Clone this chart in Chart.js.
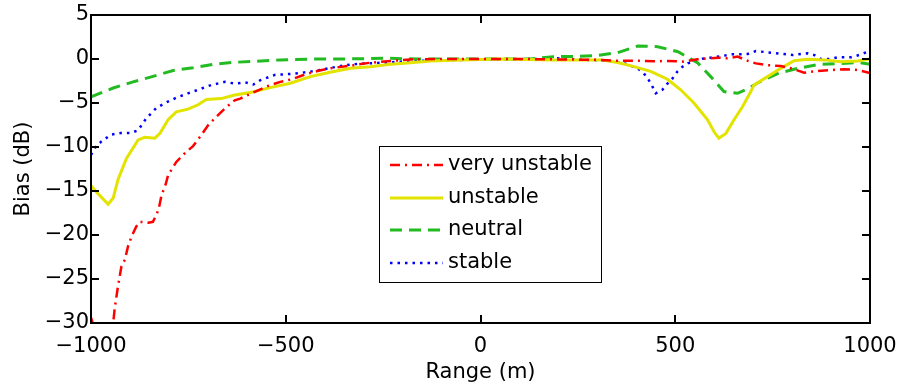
<!DOCTYPE html>
<html>
<head>
<meta charset="utf-8">
<script src="https://cdn.jsdelivr.net/npm/chart.js@4.4.1/dist/chart.umd.min.js"></script>
<style>
  html, body { margin: 0; padding: 0; background: #fff; }
  canvas { display: block; }
</style>
</head>
<body>
<canvas id="biasChart" width="898" height="385"></canvas>
<script>
// values: range (m) and bias (dB) for each stability class
const rangeVeryUnstable = [-1000, -985, -943, -939, -931, -922, -913, -905, -896, -884, -875, -853, -841, -832, -826, -819, -808, -802, -781, -759, -738, -716, -699, -678, -656, -631, -617, -578, -548, -514, -484, -450, -416, -386, -334, -283, -231, -171, -100, 0, 100, 200, 309, 352, 404, 455, 480, 523, 557, 583, 612, 634, 660, 686, 707, 737, 771, 797, 831, 866, 900, 934, 969, 1000];
const biasVeryUnstable = [-29.4, -31.5, -30, -28.3, -25.9, -23.6, -22.8, -21.3, -20.2, -19.05, -18.5, -18.6, -18.5, -17.7, -17.0, -15.5, -14.2, -13.2, -11.7, -10.7, -9.9, -8.6, -7.5, -6.55, -5.6, -4.7, -4.5, -3.7, -3.1, -2.6, -2.3, -1.75, -1.33, -1.06, -0.76, -0.42, -0.23, -0.03, 0, 0, 0, -0.05, -0.1, -0.2, -0.2, -0.25, -0.23, -0.3, -0.03, 0.08, 0.15, 0.08, 0.27, -0.2, -0.5, -0.7, -0.8, -1.06, -1.55, -1.36, -1.25, -1.17, -1.25, -1.6];

const rangeUnstable = [-1000, -982, -956, -943, -931, -909, -879, -862, -836, -823, -802, -781, -751, -725, -704, -666, -631, -591, -540, -488, -437, -386, -334, -283, -231, -180, -128, -50, 50, 188, 250, 309, 352, 394, 437, 480, 514, 548, 583, 600, 612, 630, 651, 673, 694, 702, 737, 771, 805, 840, 882, 926, 969, 1000];
const biasUnstable = [-14.4, -15.3, -16.5, -15.8, -13.75, -11.3, -9.2, -8.9, -9.0, -8.45, -6.9, -6.0, -5.7, -5.2, -4.6, -4.5, -4.1, -3.8, -3.25, -2.76, -2.0, -1.5, -1.06, -0.87, -0.6, -0.42, -0.23, -0.1, 0, -0.1, -0.1, -0.1, -0.4, -0.87, -1.4, -2.3, -3.5, -5.0, -6.9, -8.3, -9.0, -8.45, -6.9, -5.4, -3.7, -2.95, -2.0, -1.06, -0.2, -0.03, -0.1, -0.3, -0.23, 0];

const rangeNeutral = [-1000, -943, -892, -843, -789, -738, -686, -635, -583, -514, -430, -360, -239, -162, -100, 0, 128, 188, 245, 296, 352, 404, 455, 507, 558, 591, 625, 660, 686, 712, 766, 815, 869, 926, 972, 1000];
const biasNeutral = [-4.3, -3.3, -2.6, -2.0, -1.3, -1.0, -0.6, -0.38, -0.28, -0.1, 0, 0, 0.08, 0, 0, 0, 0, 0.26, 0.3, 0.38, 0.72, 1.48, 1.4, 0.83, -0.45, -2.0, -3.7, -3.9, -3.4, -2.7, -1.6, -1.06, -0.6, -0.5, -0.4, -0.6];

const rangeStable = [-1000, -990, -974, -949, -923, -897, -879, -859, -833, -810, -781, -751, -725, -691, -656, -631, -604, -583, -565, -527, -488, -446, -411, -368, -330, -291, -249, -206, -137, -50, 50, 150, 188, 265, 326, 364, 403, 419, 432, 441, 450, 467, 480, 493, 506, 519, 532, 553, 570, 591, 625, 647, 669, 686, 707, 746, 779, 801, 840, 857, 874, 895, 917, 951, 972, 990, 1000];
const biasStable = [-10.9, -10.1, -9.4, -8.6, -8.4, -8.4, -8.1, -6.8, -5.6, -5.0, -4.4, -3.9, -3.5, -2.95, -2.6, -2.8, -2.65, -2.9, -2.4, -1.8, -1.7, -1.5, -1.25, -0.87, -0.6, -0.5, -0.42, -0.3, -0.19, -0.1, -0.05, 0, 0.1, -0.1, -0.2, -0.4, -1.06, -1.6, -2.4, -3.1, -3.9, -3.5, -2.8, -2.2, -1.4, -0.87, -0.5, -0.2, 0.04, 0.15, 0.38, 0.53, 0.53, 0.57, 0.9, 0.72, 0.57, 0.45, 0.65, 0.45, 0, 0, 0.2, 0.2, 0.45, 0.76, 0.9];

const seriesLabels = ['very unstable', 'unstable', 'neutral', 'stable'];
const xTicks = [-1000, -500, 0, 500, 1000];
const yTicks = [-30, -25, -20, -15, -10, -5, 0, 5];

const FONT = 'DejaVu Sans';

function pairs(xs, ys) {
  return xs.map((x, i) => ({ x: x, y: ys[i] }));
}

function minus(v) {
  return String(v).replace('-', '\u2212');
}

// box round the plot, with the ticks pointing inwards on all four sides
const framePlugin = {
  id: 'frame',
  afterDatasetsDraw(chart) {
    const { ctx, chartArea: a, scales } = chart;
    const len = 8;
    ctx.save();
    ctx.strokeStyle = '#000';
    ctx.lineWidth = 2;
    ctx.beginPath();
    xTicks.forEach(v => {
      const px = Math.round(scales.x.getPixelForValue(v));
      ctx.moveTo(px, a.bottom); ctx.lineTo(px, a.bottom - len);
      ctx.moveTo(px, a.top); ctx.lineTo(px, a.top + len);
    });
    yTicks.forEach(v => {
      const py = Math.round(scales.y.getPixelForValue(v));
      ctx.moveTo(a.left, py); ctx.lineTo(a.left + len, py);
      ctx.moveTo(a.right, py); ctx.lineTo(a.right - len, py);
    });
    ctx.stroke();
    ctx.strokeRect(a.left, a.top, a.right - a.left, a.bottom - a.top);
    ctx.restore();
  }
};

// legend box inside the plot, like the matlab one
const legendPlugin = {
  id: 'boxLegend',
  afterDraw(chart) {
    const ctx = chart.ctx;
    const box = { left: 379, top: 146, width: 222, height: 136 };
    const rowY = [165, 198, 230, 263];
    ctx.save();
    ctx.fillStyle = '#fff';
    ctx.fillRect(box.left, box.top, box.width, box.height);
    ctx.strokeStyle = '#000';
    ctx.lineWidth = 1;
    ctx.strokeRect(box.left + 0.5, box.top + 0.5, box.width, box.height);
    chart.data.datasets.forEach((ds, i) => {
      const y = rowY[i];
      ctx.beginPath();
      ctx.strokeStyle = ds.borderColor;
      ctx.lineWidth = ds.borderWidth;
      ctx.setLineDash(ds.borderDash || []);
      ctx.moveTo(390, y);
      ctx.lineTo(443, y);
      ctx.stroke();
      ctx.setLineDash([]);
      ctx.fillStyle = '#000';
      ctx.font = '21px "' + FONT + '"';
      ctx.textBaseline = 'middle';
      ctx.fillText(ds.label, 448, y);
    });
    ctx.restore();
  }
};

const ctx = document.getElementById('biasChart').getContext('2d');
const chart = new Chart(ctx, {
  type: 'line',
  data: {
    datasets: [
      {
        label: seriesLabels[0],
        data: pairs(rangeVeryUnstable, biasVeryUnstable),
        borderColor: '#ff0000',
        borderWidth: 2.5,
        borderDash: [10, 5, 2, 5]
      },
      {
        label: seriesLabels[1],
        data: pairs(rangeUnstable, biasUnstable),
        borderColor: '#e3e300',
        borderWidth: 3
      },
      {
        label: seriesLabels[2],
        data: pairs(rangeNeutral, biasNeutral),
        borderColor: '#22bb22',
        borderWidth: 3,
        borderDash: [12, 7]
      },
      {
        label: seriesLabels[3],
        data: pairs(rangeStable, biasStable),
        borderColor: '#0000ff',
        borderWidth: 2.5,
        borderDash: [2.5, 5]
      }
    ]
  },
  options: {
    responsive: false,
    animation: false,
    clip: 0,
    layout: { padding: { top: 15, right: 28, left: 0, bottom: 0 } },
    elements: {
      point: { radius: 0 },
      line: { tension: 0, fill: false, borderCapStyle: 'butt' }
    },
    plugins: {
      legend: { display: false },
      tooltip: { enabled: false }
    },
    scales: {
      x: {
        type: 'linear',
        min: -1000,
        max: 1000,
        afterBuildTicks: s => { s.ticks = xTicks.map(v => ({ value: v })); },
        afterFit: s => { s.height = 62; s.paddingLeft = 0; s.paddingRight = 0; },
        grid: { display: false, drawTicks: false },
        border: { display: false },
        ticks: {
          color: '#000',
          padding: 11,
          maxRotation: 0,
          font: { family: FONT, size: 21 },
          callback: v => minus(v)
        },
        title: {
          display: true,
          text: 'Range (m)',
          color: '#000',
          font: { family: FONT, size: 21 },
          padding: { top: 0, bottom: 0 }
        }
      },
      y: {
        type: 'linear',
        min: -30,
        max: 5,
        afterBuildTicks: s => { s.ticks = yTicks.map(v => ({ value: v })); },
        afterFit: s => { s.width = 91; s.paddingTop = 0; s.paddingBottom = 0; },
        grid: { display: false, drawTicks: false },
        border: { display: false },
        ticks: {
          color: '#000',
          padding: 2,
          font: { family: FONT, size: 21 },
          callback: v => minus(v)
        },
        title: {
          display: true,
          text: 'Bias (dB)',
          color: '#000',
          font: { family: FONT, size: 21 },
          padding: { top: 11, bottom: 0 }
        }
      }
    }
  },
  plugins: [framePlugin, legendPlugin]
});
</script>
</body>
</html>
